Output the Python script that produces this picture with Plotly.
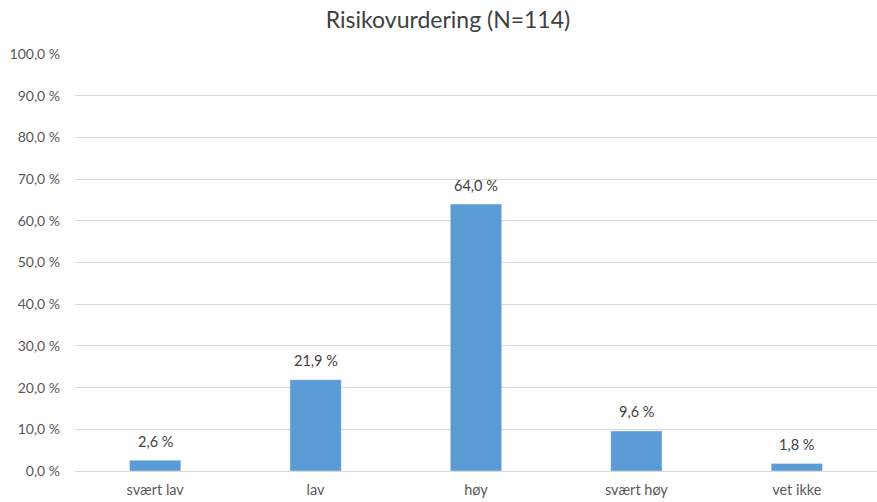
import plotly.graph_objects as go

categories = ["svært lav", "lav", "høy", "svært høy", "vet ikke"]
values = [2.6, 21.9, 64.0, 9.6, 1.8]
tick_vals = [0, 10, 20, 30, 40, 50, 60, 70, 80, 90, 100]
tick_text = [f"{v:.1f} %".replace(".", ",") for v in tick_vals]
labels = [f"{v:.1f} %".replace(".", ",") for v in values]

font_family = "Lato, Carlito, 'Open Sans', sans-serif"

fig = go.Figure(go.Bar(
    x=categories, y=values,
    marker=dict(color="#5B9BD5"),
))

for c, v, t in zip(categories, values, labels):
    fig.add_annotation(x=c, y=v, text=t, showarrow=False, yanchor="middle", yshift=19,
                       font=dict(size=14.5, color="#404040", family=font_family))

fig.update_layout(
    width=877, height=502,
    margin=dict(l=75, r=0, t=54, b=31),
    paper_bgcolor="white", plot_bgcolor="white",
    bargap=0.68,
    showlegend=False,
    title=dict(text="Risikovurdering (N=114)", x=448 / 877, xanchor="center", y=1 - 20 / 502, yanchor="middle",
               font=dict(size=23, color="#404040", family=font_family)),
    font=dict(family=font_family, color="#595959", size=14),
    xaxis=dict(showline=True, linecolor="#D9D9D9", ticks="", tickfont=dict(size=14.5, color="#595959"),
               ticklabelstandoff=6),
    yaxis=dict(range=[0, 100], tickvals=tick_vals, ticktext=tick_text, showgrid=True,
               gridcolor="#D9D9D9", zeroline=False, ticks="", ticklen=0,
               tickfont=dict(size=14, color="#595959"), ticklabelstandoff=14),
)

fig.write_html("out.html",
               config={"displayModeBar": False},
               post_script="document.body.style.margin='0';document.body.style.overflow='hidden';")
